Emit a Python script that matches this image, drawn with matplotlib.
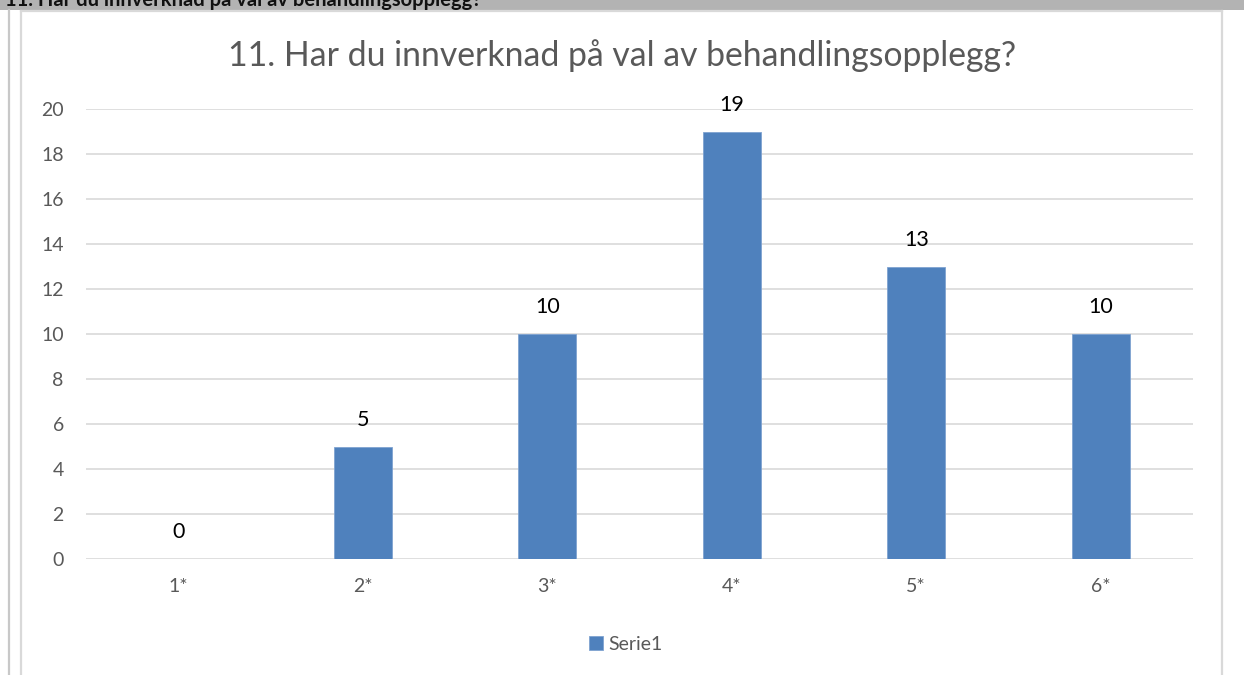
import numpy as np
import matplotlib
matplotlib.use('Agg')
import matplotlib.pyplot as plt
from matplotlib.patches import Rectangle
from matplotlib.lines import Line2D

plt.rcParams['font.family'] = ['Lato', 'DejaVu Sans']

# data
categories = ['1*', '2*', '3*', '4*', '5*', '6*']
values = [0, 5, 10, 19, 13, 10]
series_name = 'Serie1'
title = '11. Har du innverknad på val av behandlingsopplegg?'
yticks = [0, 2, 4, 6, 8, 10, 12, 14, 16, 18, 20]

W, H = 1244, 675
fig = plt.figure(figsize=(W / 100, H / 100), dpi=100)
fig.patch.set_facecolor('white')

def fx(px):
    return px / W

def fy(py):
    return 1 - py / H

# grey header strip, the bold heading is cut by the top edge like in the source
fig.patches.append(Rectangle((0, fy(10)), 1, fy(0) - fy(10), transform=fig.transFigure,
                             facecolor='#b3b3b3', edgecolor='none', zorder=0))
fig.text(fx(5), fy(6.5), title, fontsize=14.5, fontweight='bold', color='#111111',
         ha='left', va='baseline')

# page / chart borders
fig.lines.append(Line2D([fx(9), fx(9)], [fy(10), 0], transform=fig.transFigure,
                        color='#c8c8c8', lw=1.6))
fig.lines.append(Line2D([fx(21), fx(21)], [fy(11), 0], transform=fig.transFigure,
                        color='#d9d9d9', lw=1.6))
fig.lines.append(Line2D([fx(1222), fx(1222)], [fy(11), 0], transform=fig.transFigure,
                        color='#d9d9d9', lw=1.6))
fig.lines.append(Line2D([fx(21), fx(1222)], [fy(11), fy(11)], transform=fig.transFigure,
                        color='#d9d9d9', lw=1.6))

ax = fig.add_axes([fx(86), fy(559), fx(1193) - fx(86), fy(109) - fy(559)])
x = np.arange(len(categories))
bars = ax.bar(x, values, width=0.315, color='#4f81bd', edgecolor='#7fa3d1',
              linewidth=0.6, zorder=3, label=series_name)

for xi, v in zip(x, values):
    ax.annotate(str(v), (xi, v), xytext=(0, 12), textcoords='offset points',
                ha='center', va='bottom', fontsize=15.5, color='#000000')

ax.set_xlim(-0.5, len(categories) - 0.5)
ax.set_ylim(0, 20)
ax.set_yticks(yticks)
ax.set_xticks(x)
ax.set_xticklabels(categories)
ax.yaxis.grid(True, color='#d9d9d9', lw=1.2, zorder=0)
ax.set_axisbelow(True)
for s in ax.spines.values():
    s.set_visible(False)
ax.tick_params(axis='both', length=0, labelsize=14, labelcolor='#595959')
ax.tick_params(axis='y', pad=16)
ax.tick_params(axis='x', pad=14)

fig.text(0.5, fy(66), title, fontsize=24.3, color='#595959', ha='center', va='baseline')

leg = fig.legend(handles=[bars], labels=[series_name], loc='center',
                 bbox_to_anchor=(fx(626), fy(644)), frameon=False, fontsize=14,
                 handlelength=0.7, handleheight=0.7, handletextpad=0.3)
for t in leg.get_texts():
    t.set_color('#595959')

fig.savefig('out.png', dpi=100)
